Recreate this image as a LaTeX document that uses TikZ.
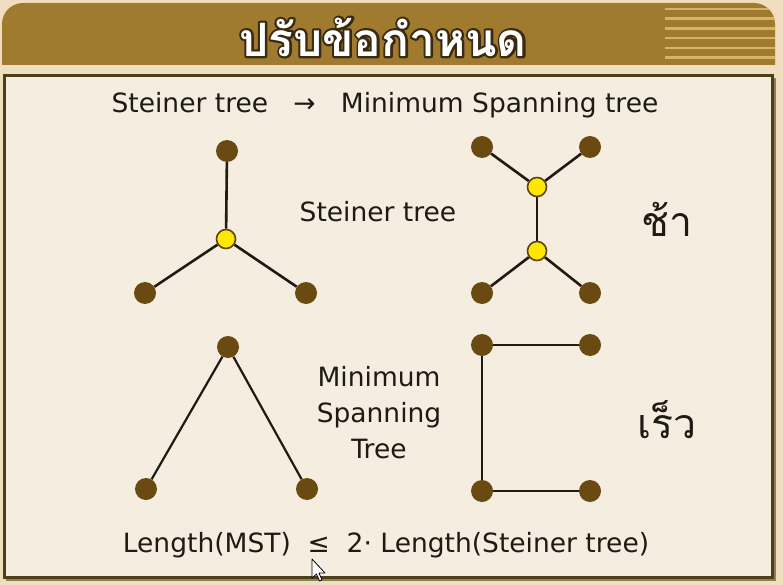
\documentclass[tikz,border=0pt]{standalone}
\usepackage{fontspec}
\setmainfont{DejaVu Sans}
\newfontfamily\thaifont[Script=Thai]{Loma}
\definecolor{bgtan}{HTML}{EFDFC0}
\definecolor{panel}{HTML}{F5EDDF}
\definecolor{hdr}{HTML}{A07A2E}
\definecolor{stripe}{HTML}{D6B465}
\definecolor{frame}{HTML}{4E3F16}
\definecolor{nodebrown}{HTML}{6B4A12}
\definecolor{ylw}{HTML}{FFE800}
\definecolor{ink}{HTML}{1E1A14}
\definecolor{outl}{HTML}{3A2A10}
\newcommand\outlined[1]{\rlap{\color{outl}\special{pdf:literal direct 2 Tr 4.5 w 1 j}#1\special{pdf:literal direct 0 Tr 0.4 w 0 j}}{\color{white}#1}}
\tikzset{
  term/.style={circle,fill=nodebrown,minimum size=22pt,inner sep=0pt},
  steinpt/.style={circle,fill=ylw,draw=nodebrown!90!black,line width=1.6pt,minimum size=19pt,inner sep=0pt},
  edge/.style={draw=ink,line width=2.6pt},
  mstedge/.style={draw=ink,line width=2.2pt},
  lbl/.style={font=\fontsize{26.5}{30}\selectfont,text=ink,inner sep=0pt},
  thai/.style={font=\thaifont\fontsize{41}{44}\selectfont,text=ink,inner sep=0pt},
  ttl/.style={font=\thaifont\bfseries\fontsize{46}{50}\selectfont,inner sep=0pt}
}
\begin{document}
\begin{tikzpicture}[x=1pt,y=-1pt]
\useasboundingbox (0,0) rectangle (783,585);
\fill[bgtan] (0,0) rectangle (783,585);
% header
\begin{scope}
\clip (2,65) -- (2,24) arc[start angle=180,end angle=270,radius=21] -- (754,3) arc[start angle=270,end angle=360,radius=21] -- (775,65) -- cycle;
\fill[hdr] (0,0) rectangle (783,65);
\foreach \yy in {9,18.5,28.5,38,48,57.5}
  \fill[stripe] (665,\yy-1.3) rectangle (783,\yy+1.3);
\end{scope}
\node[ttl] (title) at (383,37) {\outlined{ปรับข้อกำหนด}};
% panel
\fill[frame!60!bgtan] (6,78) rectangle (776,581);
\filldraw[fill=panel,draw=frame,line width=3pt] (4,76) rectangle (772,577);
% texts
\node[lbl] (head) at (385,105) {Steiner tree \ \ → \ \ Minimum Spanning tree};
\node[lbl] (st) at (378,212) {Steiner tree};
\node[lbl,align=center,font=\fontsize{26.5}{36}\selectfont] (mst) at (379,413) {Minimum\\Spanning\\Tree};
\node[thai] (slow) at (667,219) {ช้า};
\node[thai] (fast) at (667,420) {เร็ว};
\node[lbl] (ineq) at (386,545) {Length(MST) \ ≤ \ 2· Length(Steiner tree)};
% left steiner
\node[term] (a1) at (227,151) {};
\node[term] (a2) at (145,293) {};
\node[term] (a3) at (306,293) {};
\node[steinpt] (s0) at (226,239) {};
\draw[edge] (a1) -- (s0); \draw[edge] (a2) -- (s0); \draw[edge] (a3) -- (s0);
% right steiner
\node[term] (b1) at (482,147) {};
\node[term] (b2) at (590,147) {};
\node[term] (b3) at (482,293) {};
\node[term] (b4) at (590,293) {};
\node[steinpt] (s1) at (537,187) {};
\node[steinpt] (s2) at (537,251) {};
\draw[edge] (b1) -- (s1); \draw[edge] (b2) -- (s1); \draw[edge] (s1) -- (s2);
\draw[edge] (b3) -- (s2); \draw[edge] (b4) -- (s2);
% left MST
\node[term] (c1) at (228,347) {};
\node[term] (c2) at (146,489) {};
\node[term] (c3) at (307,489) {};
\draw[mstedge] (c1) -- (c2); \draw[mstedge] (c1) -- (c3);
% right MST
\node[term] (d1) at (482,345) {};
\node[term] (d2) at (590,345) {};
\node[term] (d3) at (482,491) {};
\node[term] (d4) at (590,491) {};
\draw[mstedge] (d1) -- (d2); \draw[mstedge] (d1) -- (d3); \draw[mstedge] (d3) -- (d4);
% cursor
\filldraw[fill=white,draw=black,line width=0.8pt,line join=round] (312,559) -- (312,578) -- (316.5,574) -- (319.5,581) -- (322,580) -- (319,573) -- (325,573) -- cycle;
\end{tikzpicture}
\end{document}
